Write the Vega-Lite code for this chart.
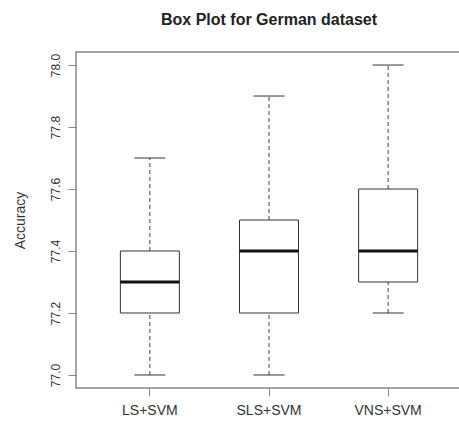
{
  "$schema": "https://vega.github.io/schema/vega-lite/v6.json",
  "autosize": "none",
  "padding": {"left": 76, "top": 52, "right": 10, "bottom": 37},
  "width": 386,
  "height": 336,
  "background": "white",
  "title": {
    "text": "Box Plot for German dataset",
    "font": "Liberation Sans",
    "fontSize": 16,
    "fontWeight": "bold",
    "color": "#222",
    "anchor": "middle",
    "offset": 24
  },
  "data": {
    "values": [
      {"method": "LS+SVM", "lo": 77.0, "q1": 77.2, "med": 77.3, "q3": 77.4, "hi": 77.7},
      {"method": "SLS+SVM", "lo": 77.0, "q1": 77.2, "med": 77.4, "q3": 77.5, "hi": 77.9},
      {"method": "VNS+SVM", "lo": 77.2, "q1": 77.3, "med": 77.4, "q3": 77.6, "hi": 78.0}
    ]
  },
  "encoding": {
    "x": {
      "field": "method",
      "type": "nominal",
      "sort": null,
      "scale": {"paddingInner": 0, "paddingOuter": 0.12},
      "axis": {
        "title": null,
        "labelAngle": 0,
        "domain": false,
        "tickColor": "#888",
        "tickSize": 8,
        "labelPadding": 7,
        "labelFontSize": 14,
        "labelColor": "#333",
        "labelFont": "Liberation Sans"
      }
    }
  },
  "layer": [
    {
      "mark": {"type": "rule", "strokeDash": [4, 3], "color": "#444", "strokeWidth": 1},
      "encoding": {
        "y": {
          "field": "lo", "type": "quantitative", "title": "Accuracy",
          "scale": {"domain": [76.958, 78.042], "nice": false, "zero": false},
          "axis": {
            "values": [77.0, 77.2, 77.4, 77.6, 77.8, 78.0],
            "format": ".1f",
            "grid": false,
            "domain": false,
            "tickColor": "#888",
            "tickSize": 8,
            "labelAngle": 270,
            "labelAlign": "center",
            "labelBaseline": "bottom",
            "labelPadding": 6,
            "labelFontSize": 12,
            "labelColor": "#333",
            "labelFont": "Liberation Sans",
            "titleFont": "Liberation Sans",
            "titleFontSize": 14,
            "titleFontWeight": "normal",
            "titleColor": "#333",
            "titlePadding": 22
          }
        },
        "y2": {"field": "q1"}
      }
    },
    {
      "mark": {"type": "rule", "strokeDash": [4, 3], "color": "#444", "strokeWidth": 1},
      "encoding": {
        "y": {"field": "q3", "type": "quantitative", "title": "Accuracy",
          "scale": {"domain": [76.958, 78.042], "nice": false, "zero": false}},
        "y2": {"field": "hi"}
      }
    },
    {
      "mark": {"type": "tick", "size": 31, "thickness": 1, "color": "#333", "opacity": 1},
      "encoding": {
        "y": {"field": "lo", "type": "quantitative", "title": "Accuracy",
          "scale": {"domain": [76.958, 78.042], "nice": false, "zero": false}}
      }
    },
    {
      "mark": {"type": "tick", "size": 31, "thickness": 1, "color": "#333", "opacity": 1},
      "encoding": {
        "y": {"field": "hi", "type": "quantitative", "title": "Accuracy",
          "scale": {"domain": [76.958, 78.042], "nice": false, "zero": false}}
      }
    },
    {
      "mark": {"type": "bar", "width": 59, "fill": "white", "stroke": "#333", "strokeWidth": 1},
      "encoding": {
        "y": {"field": "q1", "type": "quantitative", "title": "Accuracy",
          "scale": {"domain": [76.958, 78.042], "nice": false, "zero": false}},
        "y2": {"field": "q3"}
      }
    },
    {
      "mark": {"type": "tick", "size": 59, "thickness": 3, "color": "#111", "opacity": 1},
      "encoding": {
        "y": {"field": "med", "type": "quantitative", "title": "Accuracy",
          "scale": {"domain": [76.958, 78.042], "nice": false, "zero": false}}
      }
    }
  ],
  "config": {
    "view": {"stroke": "#888", "strokeWidth": 1.5},
    "font": "Liberation Sans"
  }
}
